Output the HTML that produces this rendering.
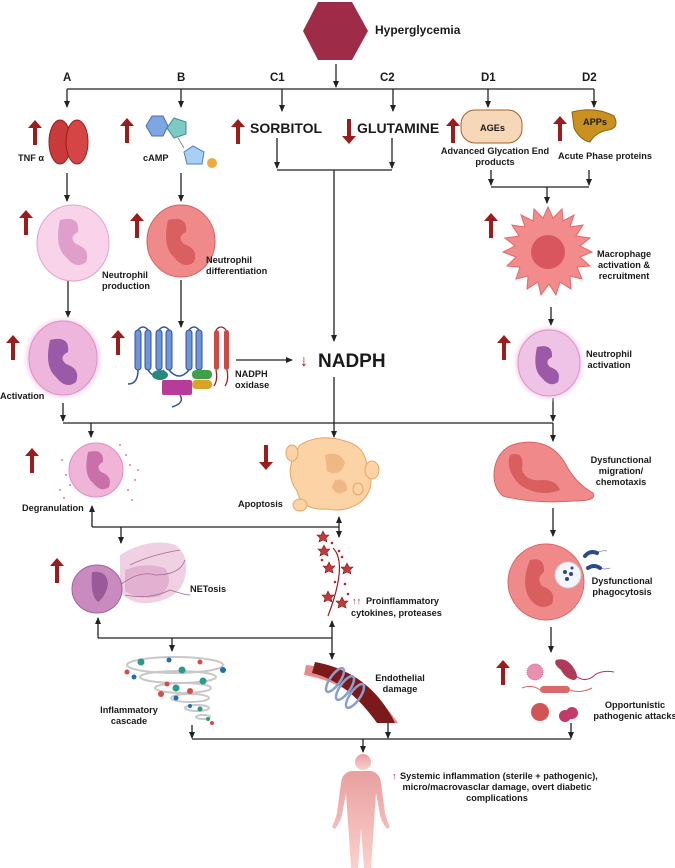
<!DOCTYPE html>
<html><head><meta charset="utf-8"><style>
html,body{margin:0;padding:0;background:#fff}
svg{display:block}
text{font-family:"Liberation Sans",sans-serif;font-weight:bold;fill:#1a1a1a}
.s{font-size:9.2px}
</style></head><body>
<svg width="675" height="868" viewBox="0 0 675 868" xmlns="http://www.w3.org/2000/svg">
<defs>
<marker id="ah" markerWidth="8" markerHeight="8" refX="6" refY="3" orient="auto" markerUnits="userSpaceOnUse"><path d="M0,0 L7,3 L0,6 Z" fill="#222"/></marker>
<path id="up" d="M-2,25 L-2,8 L-7,8 L0,0 L7,8 L2,8 L2,25 Z" fill="#9b1c1c"/>
<radialGradient id="glow"><stop offset="0.75" stop-color="#f3a6d6"/><stop offset="1" stop-color="#fff" stop-opacity="0"/></radialGradient>
<linearGradient id="hum" x1="0" y1="0" x2="0" y2="1"><stop offset="0" stop-color="#e8a0a0"/><stop offset="1" stop-color="#fbd0cc"/></linearGradient>
</defs>
<g stroke="#222" stroke-width="1.3" fill="none">
<line x1="336" y1="64" x2="336" y2="87" marker-end="url(#ah)"/>
<line x1="67" y1="89" x2="594" y2="89"/>
<line x1="67" y1="89" x2="67" y2="107" marker-end="url(#ah)"/>
<line x1="181" y1="89" x2="181" y2="107" marker-end="url(#ah)"/>
<line x1="282" y1="89" x2="282" y2="111" marker-end="url(#ah)"/>
<line x1="393" y1="89" x2="393" y2="111" marker-end="url(#ah)"/>
<line x1="488" y1="89" x2="488" y2="107" marker-end="url(#ah)"/>
<line x1="594" y1="89" x2="594" y2="107" marker-end="url(#ah)"/>
<line x1="277" y1="138" x2="277" y2="168" marker-end="url(#ah)"/>
<line x1="392" y1="138" x2="392" y2="168" marker-end="url(#ah)"/>
<line x1="277" y1="170" x2="392" y2="170"/>
<line x1="334" y1="170" x2="334" y2="341" marker-end="url(#ah)"/>
<line x1="491" y1="170" x2="491" y2="185" marker-end="url(#ah)"/>
<line x1="589" y1="170" x2="589" y2="185" marker-end="url(#ah)"/>
<line x1="491" y1="187" x2="589" y2="187"/>
<line x1="547" y1="187" x2="547" y2="203" marker-end="url(#ah)"/>
<line x1="67" y1="173" x2="67" y2="201" marker-end="url(#ah)"/>
<line x1="181" y1="173" x2="181" y2="201" marker-end="url(#ah)"/>
<line x1="68" y1="280" x2="68" y2="317" marker-end="url(#ah)"/>
<line x1="181" y1="280" x2="181" y2="327" marker-end="url(#ah)"/>
<line x1="551" y1="307" x2="551" y2="325" marker-end="url(#ah)"/>
<line x1="236" y1="360" x2="292" y2="360" marker-end="url(#ah)"/>
<line x1="63" y1="403" x2="63" y2="421" marker-end="url(#ah)"/>
<line x1="553" y1="398" x2="553" y2="421" marker-end="url(#ah)"/>
<line x1="334" y1="377" x2="334" y2="437" marker-end="url(#ah)"/>
<line x1="63" y1="423" x2="553" y2="423"/>
<line x1="91" y1="423" x2="91" y2="437" marker-end="url(#ah)"/>
<line x1="553" y1="423" x2="553" y2="441" marker-end="url(#ah)"/>
<line x1="553" y1="508" x2="553" y2="536" marker-end="url(#ah)"/>
<line x1="92" y1="527" x2="339" y2="527"/>
<line x1="92" y1="527" x2="92" y2="506" marker-end="url(#ah)"/>
<line x1="339" y1="527" x2="339" y2="517" marker-end="url(#ah)"/>
<line x1="121" y1="527" x2="121" y2="543" marker-end="url(#ah)"/>
<line x1="339" y1="527" x2="339" y2="537" marker-end="url(#ah)"/>
<line x1="98" y1="638" x2="332" y2="638"/>
<line x1="98" y1="638" x2="98" y2="618" marker-end="url(#ah)"/>
<line x1="332" y1="638" x2="332" y2="621" marker-end="url(#ah)"/>
<line x1="172" y1="638" x2="172" y2="651" marker-end="url(#ah)"/>
<line x1="332" y1="638" x2="332" y2="659" marker-end="url(#ah)"/>
<line x1="551" y1="627" x2="551" y2="652" marker-end="url(#ah)"/>
<line x1="192" y1="725" x2="192" y2="738" marker-end="url(#ah)"/>
<line x1="388" y1="723" x2="388" y2="738" marker-end="url(#ah)"/>
<line x1="571" y1="723" x2="571" y2="738" marker-end="url(#ah)"/>
<line x1="192" y1="739" x2="571" y2="739"/>
<line x1="363" y1="739" x2="363" y2="752" marker-end="url(#ah)"/>
</g>

<polygon points="318,2 352,2 368,31 352,60 318,60 303,31" fill="#9e2c48"/>
<text x="375" y="34" font-size="12">Hyperglycemia</text>
<g font-size="11.5"><text x="63" y="81">A</text><text x="177" y="81">B</text><text x="270" y="81">C1</text><text x="380" y="81">C2</text><text x="481" y="81">D1</text><text x="582" y="81">D2</text></g>

<use href="#up" x="35" y="120"/>
<ellipse cx="60" cy="142" rx="11" ry="22" fill="#c93a3a" stroke="#9b1c1c"/>
<ellipse cx="77" cy="142" rx="11" ry="22" fill="#d64545" stroke="#9b1c1c"/>
<text x="18" y="161" class="s">TNF α</text>
<use href="#up" x="127" y="118"/>
<polygon points="152,116 163,116 168,126 163,136 152,136 146,126" fill="#7ea6e0" stroke="#4a6fb5"/>
<polygon points="174,118 186,122 186,134 174,138 167,128" fill="#7fc9c4" stroke="#3a8f8a"/>
<line x1="178" y1="138" x2="184" y2="148" stroke="#888"/>
<polygon points="193,146 204,152 202,164 187,164 184,152" fill="#a8d0f5" stroke="#4a7fc0"/>
<circle cx="212" cy="163" r="5" fill="#f2a93b"/>
<text x="143" y="161" class="s">cAMP</text>
<use href="#up" x="238" y="119"/>
<text x="250" y="133" font-size="14">SORBITOL</text>
<use href="#up" transform="translate(349,144) rotate(180)"/>
<text x="357" y="133" font-size="14">GLUTAMINE</text>
<use href="#up" x="453" y="118"/>
<rect x="461" y="110" width="61" height="33" rx="14" fill="#f6d8b8" stroke="#a5602e"/>
<text x="480" y="131" class="s">AGEs</text>
<text x="495" y="154" class="s" text-anchor="middle">Advanced Glycation End</text>
<text x="495" y="165" class="s" text-anchor="middle">products</text>
<use href="#up" x="560" y="116"/>
<path d="M572,112 Q595,106 614,116 Q620,128 608,130 Q596,132 590,142 Q580,140 574,128 Z" fill="#c9921f" stroke="#8e6412"/>
<text x="583" y="125" class="s">APPs</text>
<text x="605" y="159" class="s" text-anchor="middle">Acute Phase proteins</text>

<use href="#up" x="26" y="210"/>
<ellipse cx="73" cy="243" rx="36" ry="38" fill="#f9d3ea" stroke="#e3a4cc"/>
<path d="M60,220 q20,-5 18,12 q-10,5 -2,12 q15,5 10,18 q-10,8 -20,-5 q-12,-10 -6,-37z" fill="#dea0ca"/>
<text x="102" y="278" class="s">Neutrophil</text><text x="102" y="289" class="s">production</text>
<use href="#up" x="137" y="213"/>
<ellipse cx="181" cy="241" rx="34" ry="36" fill="#f08a8a" stroke="#d65f5f"/>
<path d="M168,220 q20,-5 18,12 q-10,5 -2,12 q15,5 10,18 q-10,8 -20,-5 q-12,-10 -6,-37z" fill="#d96060"/>
<text x="206" y="263" class="s">Neutrophil</text><text x="206" y="274" class="s">differentiation</text>
<use href="#up" x="491" y="213"/>
<polygon points="548,207 553,218 562,209 563,221 574,215 570,227 583,225 576,236 590,238 580,246 592,252 580,257 590,266 577,267 582,279 570,276 571,289 560,282 556,295 549,284 541,295 538,282 527,289 528,276 516,279 520,267 507,266 516,257 503,252 515,246 505,238 519,236 512,225 525,227 521,215 533,221 534,209 543,218" fill="#f28b8b" stroke="#e06a6a"/>
<circle cx="548" cy="252" r="17" fill="#d9565e"/>
<text x="624" y="257" class="s" text-anchor="middle">Macrophage</text><text x="624" y="268" class="s" text-anchor="middle">activation &amp;</text><text x="624" y="279" class="s" text-anchor="middle">recruitment</text>

<use href="#up" x="13" y="335"/>
<ellipse cx="63" cy="358" rx="42" ry="44" fill="url(#glow)"/>
<ellipse cx="63" cy="358" rx="34" ry="37" fill="#eeb6dc" stroke="#e08fc4"/>
<path d="M50,340 q20,-5 18,12 q-10,5 -2,12 q15,5 10,18 q-10,8 -20,-5 q-12,-10 -6,-37z" fill="#9a5aa8"/>
<text x="0" y="399" class="s">Activation</text>
<use href="#up" x="118" y="330"/>
<g stroke="#2f4fa0" stroke-width="1" fill="#6f95d6">
<rect x="135" y="330" width="6" height="40" rx="3"/><rect x="145" y="330" width="6" height="40" rx="3"/>
<rect x="156" y="330" width="6" height="40" rx="3"/><rect x="166" y="330" width="6" height="40" rx="3"/>
<rect x="186" y="330" width="6" height="40" rx="3"/><rect x="196" y="330" width="6" height="40" rx="3"/>
</g>
<path d="M138,330 q5,-6 10,0 M159,330 q5,-6 10,0 M189,330 q5,-6 10,0 M148,370 q8,12 16,0 M169,370 q10,12 20,0 M138,370 q0,14 -10,14 M180,395 q5,8 -8,12" stroke="#2f4fa0" stroke-width="1.5" fill="none"/>
<rect x="214" y="330" width="5" height="40" rx="2.5" fill="#cf4848"/><rect x="224" y="330" width="5" height="40" rx="2.5" fill="#cf4848"/>
<path d="M216,330 q5,-6 10,0 M216,370 q2,10 -2,16 M227,370 q2,10 -2,16" stroke="#a02020" stroke-width="1.3" fill="none"/>
<ellipse cx="160" cy="375" rx="8" ry="5" fill="#27897d"/>
<rect x="162" y="380" width="30" height="15" rx="2" fill="#b73c9a"/>
<rect x="192" y="370" width="20" height="9" rx="4" fill="#3fa04a"/>
<rect x="192" y="380" width="20" height="9" rx="4" fill="#d9a32a"/>
<text x="235" y="377" class="s">NADPH</text><text x="235" y="388" class="s">oxidase</text>
<text x="300" y="366" font-size="16" style="fill:#9b1c1c">↓</text>
<text x="318" y="367" font-size="19">NADPH</text>
<use href="#up" x="504" y="335"/>
<ellipse cx="549" cy="363" rx="38" ry="40" fill="url(#glow)"/>
<ellipse cx="549" cy="363" rx="31" ry="33" fill="#eec3e6" stroke="#e08fc4"/>
<path d="M537,347 q16,-4 15,10 q-8,4 -2,10 q12,4 8,15 q-8,6 -16,-4 q-10,-8 -5,-31z" fill="#9a5aa8"/>
<text x="609" y="357" class="s" text-anchor="middle">Neutrophil</text><text x="609" y="368" class="s" text-anchor="middle">activation</text>

<use href="#up" x="32" y="448"/>
<circle cx="96" cy="470" r="27" fill="#f0b4d8" stroke="#e08fc4"/>
<path d="M88,452 q16,-4 15,10 q-8,4 -2,10 q12,4 8,15 q-8,6 -16,-4 q-10,-8 -5,-31z" fill="#c970a8"/>
<g fill="#d77ab3"><circle cx="62" cy="460" r="1"/><circle cx="66" cy="475" r="1"/><circle cx="60" cy="490" r="1"/><circle cx="130" cy="465" r="1"/><circle cx="135" cy="480" r="1"/><circle cx="128" cy="490" r="1"/><circle cx="120" cy="445" r="1"/><circle cx="138" cy="470" r="1"/><circle cx="70" cy="485" r="1"/><circle cx="126" cy="455" r="1"/><circle cx="132" cy="500" r="1"/><circle cx="64" cy="498" r="1"/></g>
<text x="22" y="511" class="s">Degranulation</text>
<use href="#up" transform="translate(266,470) rotate(180)"/>
<path d="M300,445 q20,-12 45,-4 q20,5 22,25 q10,20 -5,35 q-15,12 -35,8 q-25,2 -30,-18 q-15,-20 3,-46z" fill="#fbd3a5" stroke="#e6a56a"/>
<ellipse cx="292" cy="453" rx="6" ry="8" fill="#fbd3a5" stroke="#e6a56a"/>
<ellipse cx="372" cy="470" rx="7" ry="9" fill="#fbd3a5" stroke="#e6a56a"/>
<ellipse cx="300" cy="505" rx="7" ry="6" fill="#fbd3a5" stroke="#e6a56a"/>
<ellipse cx="358" cy="489" rx="5" ry="6" fill="#fbd3a5" stroke="#e6a56a"/>
<path d="M325,455 q15,-5 20,8 q-5,15 -18,8z M335,480 q12,-3 12,10 q-10,8 -15,-3z" fill="#f0b685"/>
<text x="238" y="507" class="s">Apoptosis</text>
<path d="M520,443 q30,-5 45,20 q10,20 28,30 q5,8 -20,8 q-40,3 -70,-5 q-12,-10 -8,-30 q5,-20 25,-23z" fill="#f08a8a" stroke="#d86464"/>
<path d="M510,455 q15,-5 12,15 q5,12 20,10 q15,0 18,10 q-20,8 -40,-5 q-15,-15 -10,-30z" fill="#d95f5f"/>
<text x="621" y="463" class="s" text-anchor="middle">Dysfunctional</text><text x="621" y="474" class="s" text-anchor="middle">migration/</text><text x="621" y="485" class="s" text-anchor="middle">chemotaxis</text>

<use href="#up" x="57" y="558"/>
<path d="M120,555 q30,-18 55,-10 q15,10 10,32 q-5,22 -35,26 q-20,2 -30,-12z" fill="#ecc4dc" opacity="0.8"/>
<path d="M125,570 q20,-8 40,-2 q10,15 -5,28 q-20,5 -35,-5z" fill="#dfa7ca" opacity="0.8"/>
<path d="M120,585 q20,-15 35,-10 q25,0 30,-15 M125,595 q25,5 45,-5 q15,5 20,5 M130,565 q20,-10 50,-15" stroke="#a56b90" stroke-width="0.8" fill="none"/>
<ellipse cx="97" cy="589" rx="25" ry="24" fill="#c98bbf" stroke="#a4629b"/>
<path d="M92,572 q15,-2 16,12 q-2,12 -10,18 q-8,-6 -6,-30z" fill="#9a5a98"/>
<text x="190" y="592" class="s">NETosis</text>
<g fill="#c23a3a" stroke="#7a1a1a" stroke-width="0.6">
<polygon points="323,531 325,535 329,535 326,538 327,542 323,540 319,542 320,538 317,535 321,535"/>
<polygon points="324,545 326,549 330,549 327,552 328,556 324,554 320,556 321,552 318,549 322,549"/>
<polygon points="329,562 331,566 335,566 332,569 333,573 329,571 325,573 326,569 323,566 327,566"/>
<polygon points="347,563 349,567 353,567 350,570 351,574 347,572 343,574 344,570 341,567 345,567"/>
<polygon points="328,591 330,595 334,595 331,598 332,602 328,600 324,602 325,598 322,595 326,595"/>
<polygon points="342,597 344,601 348,601 345,604 346,608 342,606 338,608 339,604 336,601 340,601"/>
</g>
<path d="M333,548 q15,15 -5,68" stroke="#9b1c1c" stroke-width="1.2" fill="none"/>
<g fill="#b02828"><circle cx="332" cy="543" r="1.3"/><circle cx="339" cy="551" r="1.3"/><circle cx="322" cy="560" r="1.3"/><circle cx="342" cy="557" r="1.3"/><circle cx="335" cy="582" r="1.3"/><circle cx="345" cy="584" r="1.3"/><circle cx="348" cy="594" r="1.3"/></g>
<text x="352" y="604" class="s" style="fill:#9b1c1c">↑↑</text>
<text x="366" y="604" class="s">Proinflammatory</text>
<text x="351" y="616" class="s">cytokines, proteases</text>
<circle cx="546" cy="582" r="38" fill="#f08a8a" stroke="#d86464"/>
<path d="M530,560 q15,-4 14,12 q-8,6 -2,14 q15,5 10,18 q-12,8 -22,-5 q-10,-15 0,-39z" fill="#d95f5f"/>
<circle cx="568" cy="575" r="13" fill="#f5f5ff" stroke="#ccc"/>
<g fill="#2a4a8a"><circle cx="565" cy="572" r="2"/><circle cx="571" cy="574" r="2"/><circle cx="567" cy="579" r="2"/><circle cx="572" cy="568" r="1.5"/></g>
<path d="M585,556 q5,-6 12,-3 M588,568 q6,-4 12,0" stroke="#2a4a8a" stroke-width="4" stroke-linecap="round" fill="none"/>
<path d="M597,553 q5,-3 10,-2 M600,568 q5,2 10,0" stroke="#2a4a8a" stroke-width="0.6" fill="none"/>
<text x="622" y="584" class="s" text-anchor="middle">Dysfunctional</text><text x="622" y="595" class="s" text-anchor="middle">phagocytosis</text>

<g fill="none" stroke="#c8c8c8" stroke-width="2">
<ellipse cx="175" cy="665" rx="48" ry="8"/><ellipse cx="178" cy="677" rx="38" ry="6"/><ellipse cx="183" cy="688" rx="28" ry="5"/><ellipse cx="190" cy="698" rx="19" ry="4"/><ellipse cx="197" cy="708" rx="12" ry="3"/><ellipse cx="203" cy="717" rx="7" ry="2"/>
</g>
<g><circle cx="141" cy="662" r="3.5" fill="#2a9a8a"/><circle cx="169" cy="660" r="2.5" fill="#1e6fb0"/><circle cx="200" cy="662" r="2.5" fill="#d84a4a"/><circle cx="223" cy="670" r="3" fill="#1e6fb0"/><circle cx="182" cy="670" r="3.5" fill="#2a9a8a"/><circle cx="127" cy="672" r="2.5" fill="#d84a4a"/><circle cx="203" cy="681" r="3.5" fill="#2a9a8a"/><circle cx="134" cy="677" r="2.5" fill="#1e6fb0"/><circle cx="176" cy="688" r="3.5" fill="#2a9a8a"/><circle cx="167" cy="684" r="2.5" fill="#d84a4a"/><circle cx="190" cy="691" r="3" fill="#d84a4a"/><circle cx="161" cy="694" r="3" fill="#d84a4a"/><circle cx="176" cy="698" r="2.5" fill="#1e6fb0"/><circle cx="200" cy="709" r="2.5" fill="#2a9a8a"/><circle cx="190" cy="706" r="2" fill="#1e6fb0"/><circle cx="208" cy="719" r="2" fill="#2a9a8a"/><circle cx="212" cy="723" r="2" fill="#d84a4a"/></g>
<text x="129" y="713" class="s" text-anchor="middle">Inflammatory</text><text x="129" y="724" class="s" text-anchor="middle">cascade</text>
<path d="M306,665 q55,5 92,58 l-12,0 q-35,-40 -82,-48 z" fill="#e88a8a"/>
<path d="M315,662 q55,10 80,61 l-18,0 q-30,-42 -65,-50 z" fill="#7a1a1a"/>
<g fill="none" stroke="#8aa0cc" stroke-width="2.5"><ellipse cx="335" cy="680" rx="5" ry="14" transform="rotate(35 335 680)"/><ellipse cx="345" cy="688" rx="5" ry="14" transform="rotate(35 345 688)"/><ellipse cx="355" cy="696" rx="5" ry="14" transform="rotate(35 355 696)"/></g>
<text x="400" y="681" class="s" text-anchor="middle">Endothelial</text><text x="400" y="692" class="s" text-anchor="middle">damage</text>
<use href="#up" x="503" y="660"/>
<circle cx="535" cy="672" r="8" fill="#e98fb0" stroke="#d46690" stroke-dasharray="1 1"/>
<path d="M556,660 q12,-4 20,12 q3,8 -3,8 q-8,-2 -12,-10 q-8,-6 -5,-10z" fill="#b03a5a"/>
<path d="M576,676 q10,8 20,-2 q8,-4 18,-2" stroke="#b03a5a" fill="none"/>
<rect x="540" y="686" width="30" height="7" rx="3.5" fill="#d96a6a"/>
<path d="M522,688 q10,-4 18,2 M570,690 q10,4 22,-2" stroke="#d96a6a" fill="none"/>
<circle cx="540" cy="712" r="9" fill="#d25555"/>
<circle cx="565" cy="716" r="6" fill="#c23a6a"/><circle cx="572" cy="713" r="6" fill="#c23a6a"/>
<text x="635" y="708" class="s" text-anchor="middle">Opportunistic</text><text x="635" y="719" class="s" text-anchor="middle">pathogenic attacks</text>

<g fill="url(#hum)">
<circle cx="363" cy="762" r="8"/>
<path d="M355,771 h16 q9,2 10,12 l4,30 q2,8 5,14 l-3,2 q-5,-6 -7,-14 l-4,-22 l-2,30 l-3,45 h-7 l-3,-40 l-3,40 h-7 l-3,-45 l-2,-30 l-4,22 q-2,8 -7,14 l-3,-2 q3,-6 5,-14 l4,-30 q1,-10 10,-12z"/>
</g>
<text x="392" y="779" class="s" style="fill:#9b1c1c">↑</text>
<text x="400" y="779" class="s">Systemic inflammation (sterile + pathogenic),</text>
<text x="497" y="790" class="s" text-anchor="middle">micro/macrovasclar damage, overt diabetic</text>
<text x="497" y="801" class="s" text-anchor="middle">complications</text>
</svg>
</body></html>
